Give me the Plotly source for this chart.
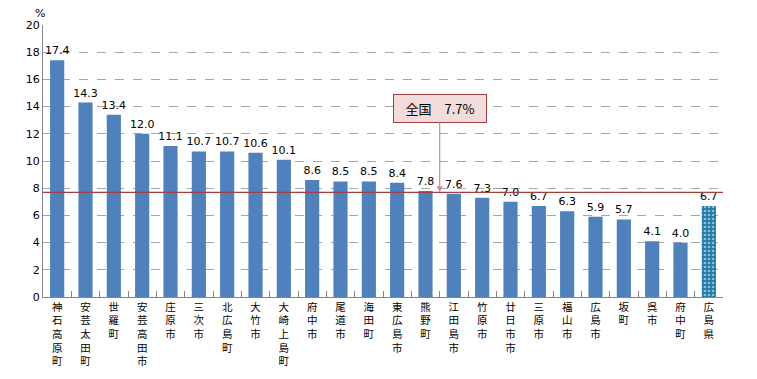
import plotly.graph_objects as go

categories = ["神石高原町", "安芸太田町", "世羅町", "安芸高田市", "庄原市", "三次市", "北広島町",
              "大竹市", "大崎上島町", "府中市", "尾道市", "海田町", "東広島市", "熊野町", "江田島市",
              "竹原市", "廿日市市", "三原市", "福山市", "広島市", "坂町", "呉市", "府中町", "広島県"]
values = [17.4, 14.3, 13.4, 12.0, 11.1, 10.7, 10.7, 10.6, 10.1, 8.6, 8.5, 8.5, 8.4, 7.8, 7.6,
          7.3, 7.0, 6.7, 6.3, 5.9, 5.7, 4.1, 4.0, 6.7]
national = 7.7
y_ticks = [0, 2, 4, 6, 8, 10, 12, 14, 16, 18, 20]

n = len(categories)
vert_labels = ["<br>".join(list(c)) for c in categories]

fig = go.Figure()
fig.add_trace(go.Bar(
    x=categories[:-1], y=values[:-1],
    marker=dict(color="#4F81BD", line=dict(width=0)),
    text=[f"{v:.1f}" for v in values[:-1]], textposition="outside", constraintext="none",
    textfont=dict(size=11, color="black", family="DejaVu Sans"),
    cliponaxis=False, width=0.5, showlegend=False,
))
fig.add_trace(go.Bar(
    x=categories[-1:], y=values[-1:],
    marker=dict(color="#1F7BA8", line=dict(width=0),
                pattern=dict(shape=".", fgcolor="white", bgcolor="#1F7BA8", size=4, solidity=0.35)),
    text=[f"{v:.1f}" for v in values[-1:]], textposition="outside", constraintext="none",
    textfont=dict(size=11, color="black", family="DejaVu Sans"),
    cliponaxis=False, width=0.5, showlegend=False,
))

fig.add_shape(type="line", xref="paper", x0=0, x1=1, yref="y", y0=national, y1=national,
              line=dict(color="#A0413F", width=1.2))

fig.add_annotation(
    x=13.5, y=national, xref="x", yref="y",
    text="全国　7.7%", showarrow=True, arrowhead=2, arrowsize=1, arrowwidth=1.2,
    arrowcolor="#D08A88", ax=0, ay=-84, standoff=0,
    width=82, height=17,
    font=dict(size=13, color="black", family="Noto Sans CJK JP"),
    bgcolor="#F2DCDB", bordercolor="#A0413F", borderwidth=1, borderpad=5,
)

fig.add_annotation(x=0, y=1.0, xref="paper", yref="paper", xanchor="left", yanchor="bottom",
                   xshift=-10, yshift=3, text="%", showarrow=False,
                   font=dict(size=11, color="black", family="DejaVu Sans"))

# page body has an 8px margin: figure is sized/margined to land where the reference is
fig.update_layout(
    width=749, height=371,
    margin=dict(l=35, r=34, t=17, b=82, autoexpand=False),
    paper_bgcolor="white", plot_bgcolor="white",
    barmode="overlay",
    font=dict(family="Noto Sans CJK JP", size=12, color="black"),
)
fig.update_xaxes(
    type="category", categoryorder="array", categoryarray=categories,
    tickmode="array", tickvals=categories, ticktext=vert_labels,
    tickfont=dict(size=10.5, family="Noto Sans CJK JP", color="black"), tickangle=0,
    showline=True, linecolor="#868686", linewidth=1,
    ticks="inside", tickson="boundaries", ticklen=6, tickcolor="#868686",
    showgrid=False, range=[-0.5, n - 0.5],
)
fig.update_yaxes(
    range=[0, 20], tickvals=y_ticks, ticktext=[str(t) for t in y_ticks],
    showline=True, linecolor="#868686", linewidth=1,
    showgrid=True, gridcolor="#A6A6A6", griddash="dash", gridwidth=1,
    ticks="", tickfont=dict(size=11, family="DejaVu Sans"), zeroline=False,
)

fig.write_html("out.html")
